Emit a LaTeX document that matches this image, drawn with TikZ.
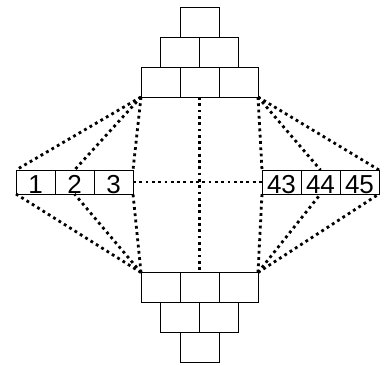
\documentclass[tikz,border=0pt]{standalone}
\usepackage{fontspec}
\setmainfont{Liberation Sans}
\begin{document}
\begin{tikzpicture}[x=1pt,y=-1pt,
  brick/.style={draw=black,line width=1pt,minimum width=39pt,minimum height=30pt,inner sep=0pt,outer sep=0pt},
  numbox/.style={draw=black,line width=1pt,minimum width=39pt,minimum height=24pt,inner sep=0pt,outer sep=0pt,
    font=\fontsize{26}{26}\selectfont,text height=23pt,text depth=0pt},
  dotline/.style={line width=2.8pt,dash pattern=on 2.8pt off 3.5pt,black}]
\useasboundingbox (0,0) rectangle (386,365);
% top pyramid
\node[brick] (t1) at (199.5,22) {};
\node[brick] (t2a) at (179.5,52) {};
\node[brick] (t2b) at (218.5,52) {};
\node[brick] (t3a) at (160.5,82) {};
\node[brick] (t3b) at (199.5,82) {};
\node[brick] (t3c) at (238.5,82) {};
% bottom pyramid
\node[brick] (b1a) at (160.5,287.5) {};
\node[brick] (b1b) at (199.5,287.5) {};
\node[brick] (b1c) at (238.5,287.5) {};
\node[brick] (b2a) at (179.5,317.5) {};
\node[brick] (b2b) at (218.5,317.5) {};
\node[brick] (b3) at (199.5,347.5) {};
% left row
\node[numbox] (l1) at (35.5,182) {1};
\node[numbox] (l2) at (74.5,182) {2};
\node[numbox] (l3) at (113.5,182) {3};
% right row
\node[numbox] (r1) at (281.5,182) {43};
\node[numbox] (r2) at (320.5,182) {44};
\node[numbox] (r3) at (359.5,182) {45};
% connectors
\draw[dotline] (t3a.south west) -- (l1.north west);
\draw[dotline] (t3a.south west) -- (l2.north);
\draw[dotline] (t3a.south west) -- (l3.north east);
\draw[dotline] (t3c.south east) -- (r1.north west);
\draw[dotline] (t3c.south east) -- (r2.north);
\draw[dotline] (t3c.south east) -- (r3.north east);
\draw[dotline] (b1a.north west) -- (l1.south west);
\draw[dotline] (b1a.north west) -- (l2.south);
\draw[dotline] (b1a.north west) -- (l3.south east);
\draw[dotline] (b1c.north east) -- (r1.south west);
\draw[dotline] (b1c.north east) -- (r2.south);
\draw[dotline] (b1c.north east) -- (r3.south east);
\draw[dotline] (t3b.south) -- (b1b.north);
\draw[dotline] (l3.east) -- (r1.west);
\end{tikzpicture}
\end{document}
